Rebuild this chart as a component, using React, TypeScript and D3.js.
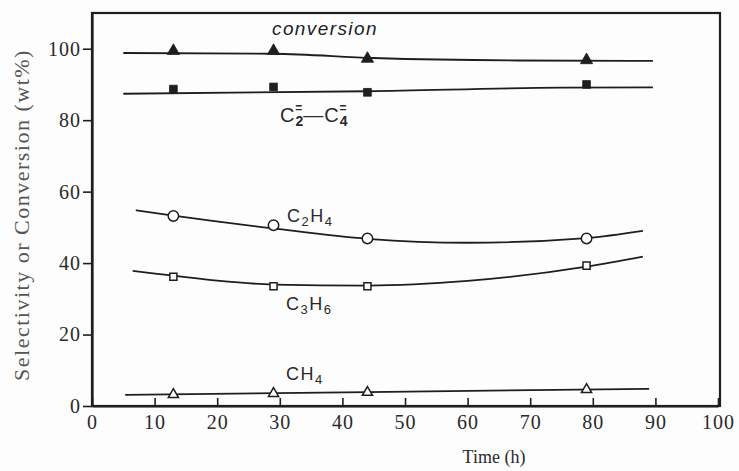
import React, { useEffect, useRef } from "react";
import * as d3 from "d3";

const xTicks = [0, 10, 20, 30, 40, 50, 60, 70, 80, 90, 100];
const yTicks = [0, 20, 40, 60, 80, 100];

const sampleTimes = [13, 29, 44, 79];
const conversionPts = [99.4, 99.4, 97.2, 96.8];
const olefinPts = [88.7, 89.3, 87.8, 90.0];
const ethylenePts = [53.2, 50.6, 46.9, 46.9];
const propylenePts = [36.2, 33.5, 33.5, 39.3];
const methanePts = [3.2, 3.5, 3.8, 4.6];

// hand-drawn fit lines, read at a few times
const conversionFitT = [5, 29, 45, 68, 89.6];
const conversionFit = [98.8, 98.6, 97.4, 96.7, 96.6];
const olefinFitT = [5, 44, 75, 89.6];
const olefinFit = [87.4, 88.1, 89.1, 89.2];
const ethyleneFitT = [7, 13, 29, 44, 60, 79, 88];
const ethyleneFit = [54.8, 53.3, 49.7, 46.8, 45.7, 47.0, 49.0];
const propyleneFitT = [6.5, 13, 20, 29, 44, 60, 79, 88];
const propyleneFit = [37.8, 36.5, 35.1, 34.0, 33.7, 35.0, 39.0, 41.8];
const methaneFitT = [5.3, 44, 89];
const methaneFit = [3.1, 3.9, 4.8];

const W = 739;
const H = 471;
const INK = "#1e1e1e";

const App = () => {
  const ref = useRef<SVGSVGElement>(null);

  useEffect(() => {
    const svg = d3.select(ref.current);
    svg.selectAll("*").remove();

    const x = d3.scaleLinear().domain([0, 100]).range([92, 718]);
    const y = d3.scaleLinear().domain([0, 110]).range([406, 13]);

    svg.append("rect").attr("width", W).attr("height", H).attr("fill", "#fdfdfd");

    // frame
    svg
      .append("rect")
      .attr("x", 92)
      .attr("y", 13)
      .attr("width", 720 - 92)
      .attr("height", 406 - 13)
      .attr("fill", "none")
      .attr("stroke", INK)
      .attr("stroke-width", 2.2);

    const serif = "'Liberation Serif', 'Times New Roman', serif";

    const gx = svg
      .append("g")
      .attr("transform", `translate(0,406)`)
      .call(
        d3
          .axisBottom(x)
          .tickValues(xTicks)
          .tickSizeInner(-8)
          .tickSizeOuter(0)
          .tickPadding(9)
      );
    gx.attr("font-family", serif);
    gx.select(".domain").attr("stroke", INK).attr("stroke-width", 2.2);
    gx.selectAll(".tick line").attr("stroke", INK).attr("stroke-width", 1.6);
    gx.selectAll(".tick text")
      .attr("fill", "#2a2a2a")
      .style("font-family", serif)
      .style("font-size", "20px")
      .style("letter-spacing", "1px");

    const gy = svg
      .append("g")
      .attr("transform", `translate(92,0)`)
      .call(
        d3
          .axisLeft(y)
          .tickValues(yTicks)
          .tickSizeInner(9)
          .tickSizeOuter(0)
          .tickPadding(2)
      );
    gy.attr("font-family", serif);
    gy.select(".domain").attr("stroke", INK).attr("stroke-width", 2.2);
    gy.selectAll(".tick line").attr("stroke", INK).attr("stroke-width", 1.6);
    gy.selectAll(".tick text")
      .attr("fill", "#2a2a2a")
      .style("font-family", serif)
      .style("font-size", "20px")
      .style("letter-spacing", "1px");

    // axis titles
    svg
      .append("text")
      .attr("x", 494)
      .attr("y", 463)
      .attr("text-anchor", "middle")
      .attr("fill", "#2a2a2a")
      .style("font-family", serif)
      .style("font-size", "18px")
      .text("Time  (h)");

    svg
      .append("text")
      .attr("transform", "translate(29,215) rotate(-90)")
      .attr("text-anchor", "middle")
      .attr("fill", "#555")
      .style("font-family", serif)
      .style("font-size", "22px")
      .style("letter-spacing", "1.5px")
      .text("Selectivity or Conversion (wt%)");

    const fit = (ts: number[], vs: number[]) =>
      d3
        .line<number>()
        .x((_, i) => x(ts[i]))
        .y((v) => y(v))
        .curve(d3.curveMonotoneX)(vs);

    const fits: [number[], number[]][] = [
      [conversionFitT, conversionFit],
      [olefinFitT, olefinFit],
      [ethyleneFitT, ethyleneFit],
      [propyleneFitT, propyleneFit],
      [methaneFitT, methaneFit],
    ];
    fits.forEach(([ts, vs]) => {
      svg
        .append("path")
        .attr("d", fit(ts, vs))
        .attr("fill", "none")
        .attr("stroke", INK)
        .attr("stroke-width", 1.8);
    });

    const marks = (
      vals: number[],
      type: d3.SymbolType,
      size: number,
      filled: boolean
    ) => {
      svg
        .append("g")
        .selectAll("path")
        .data(vals)
        .join("path")
        .attr("transform", (v, i) => `translate(${x(sampleTimes[i])},${y(v)})`)
        .attr("d", d3.symbol().type(type).size(size)())
        .attr("fill", filled ? INK : "#fff")
        .attr("stroke", INK)
        .attr("stroke-width", filled ? 0.8 : 1.5);
    };
    marks(conversionPts, d3.symbolTriangle, 65, true);
    marks(olefinPts, d3.symbolSquare, 60, true);
    marks(ethylenePts, d3.symbolCircle, 85, false);
    marks(propylenePts, d3.symbolSquare, 50, false);
    marks(methanePts, d3.symbolTriangle, 45, false);

    // series labels
    const sans = "'Liberation Sans', Arial, sans-serif";
    const label = (tx: number, ty: number, parts: [string, string][]) => {
      const t = svg
        .append("text")
        .attr("x", tx)
        .attr("y", ty)
        .attr("fill", "#2a2a2a")
        .style("font-family", sans)
        .style("font-size", "18px")
        .style("letter-spacing", "1.5px");
      parts.forEach(([s, kind]) => {
        const sp = t.append("tspan").text(s);
        if (kind === "sub") sp.attr("dy", 4).style("font-size", "13px");
        if (kind === "base") sp.attr("dy", -4);
      });
    };

    svg
      .append("text")
      .attr("x", 272)
      .attr("y", 35)
      .attr("fill", "#1e1e1e")
      .style("font-family", sans)
      .style("font-style", "italic")
      .style("font-size", "19px")
      .style("letter-spacing", "1.4px")
      .text("conversion");

    // C2= — C4=, the "=" stacked over each subscript
    const ol = svg
      .append("text")
      .attr("x", 280)
      .attr("y", 122)
      .attr("fill", "#2a2a2a")
      .style("font-family", sans)
      .style("font-size", "20px")
      .style("letter-spacing", "1px");
    const sub = (s: string) =>
      ol.append("tspan").attr("dy", 4).style("font-size", "14px").style("font-weight", "bold").text(s);
    const sup = () =>
      ol.append("tspan").attr("dx", -9).attr("dy", -14).style("font-size", "12px").style("font-weight", "bold").text("=");
    ol.append("tspan").text("C");
    sub("2");
    sup();
    ol.append("tspan").attr("dy", 10).text("\u2014C");
    sub("4");
    sup();

    label(287, 222, [["C", ""], ["2", "sub"], ["H", "base"], ["4", "sub"]]);
    label(286, 310, [["C", ""], ["3", "sub"], ["H", "base"], ["6", "sub"]]);
    label(286, 380, [["CH", ""], ["4", "sub"]]);
  }, []);

  return (
    <svg
      ref={ref}
      width={W}
      height={H}
      style={{ position: "absolute", left: 0, top: 0 }}
    >
    </svg>
  );
};

export default App;
